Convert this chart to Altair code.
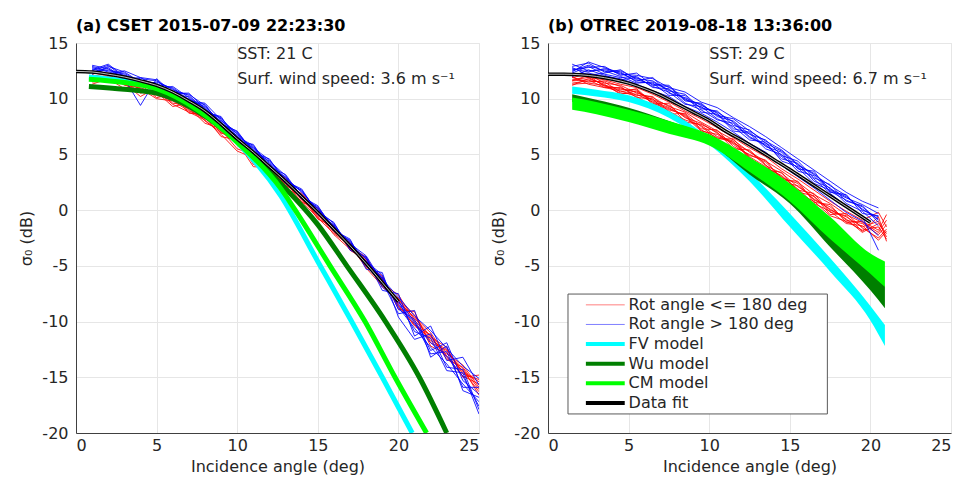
import altair as alt
import pandas as pd

# ---------------- Panel (a): CSET 2015-07-09 22:23:30 ----------------
THETA_A = [1, 2, 3, 4, 5, 6, 7, 8, 9, 10, 11, 12, 13, 14, 15, 16, 17, 18, 19, 20, 21, 22, 23, 24, 25]
RED_A = [
    [12.0, 12.3, 11.2, 11.0, 10.4, 10.0, 9.0, 8.2, 7.5, 5.8, 4.6, 3.5, 2.9, 1.0, -0.5, -1.4, -3.6, -4.5, -6.9, -8.0, -9.4, -11.9, -12.6, -14.5, -15.4],
    [11.6, 11.9, 11.6, 10.5, 10.9, 9.6, 9.4, 8.0, 7.0, 6.1, 3.9, 3.8, 2.2, 1.5, -0.1, -2.0, -2.9, -5.1, -6.2, -8.6, -10.3, -11.2, -13.4, -14.1, -16.1],
    [12.2, 11.5, 12.0, 11.3, 10.1, 10.4, 8.7, 8.6, 7.2, 5.5, 5.0, 3.2, 2.5, 0.7, 0.2, -1.9, -3.3, -4.2, -6.6, -7.6, -9.9, -11.4, -12.3, -15.0, -14.8],
    [11.3, 11.8, 10.9, 11.5, 10.6, 9.3, 9.6, 8.4, 6.6, 6.3, 4.3, 4.1, 1.9, 1.3, -0.8, -1.5, -3.0, -4.9, -5.9, -8.9, -9.1, -12.2, -12.9, -13.9, -15.9],
    [11.8, 12.0, 11.4, 10.2, 11.0, 10.1, 9.2, 7.8, 7.3, 5.9, 4.8, 3.0, 2.7, 0.9, -0.3, -2.2, -3.5, -4.6, -6.3, -8.3, -9.6, -11.0, -13.1, -14.4, -16.3],
    [12.1, 11.7, 11.7, 10.8, 10.3, 9.9, 9.1, 8.7, 6.9, 6.6, 4.1, 3.6, 2.3, 1.1, -0.6, -1.8, -3.1, -5.2, -6.8, -7.9, -10.1, -11.7, -12.5, -14.7, -15.2],
    [11.9, 12.1, 11.5, 10.9, 10.0, 9.8, 8.9, 8.3, 7.1, 6.0, 4.4, 3.3, 2.4, 1.2, -0.4, -1.6, -3.4, -4.4, -6.4, -8.1, -9.7, -11.3, -13.2, -14.9, -15.6],
    [11.5, 11.6, 11.3, 10.6, 10.7, 9.5, 8.8, 8.1, 6.8, 5.3, 4.7, 3.4, 2.0, 0.8, -0.7, -2.1, -3.2, -4.8, -6.1, -8.5, -10.4, -11.5, -12.8, -14.2, -16.6],
]
BLUE_A = [
    [12.6, 13.1, 12.0, 11.8, 11.6, 10.8, 10.3, 9.0, 8.2, 6.8, 5.5, 4.3, 2.9, 1.6, 0.1, -1.5, -2.9, -4.4, -6.2, -7.8, -9.5, -10.8, -12.4, -14.0, -15.1],
    [12.9, 12.5, 12.3, 11.4, 11.3, 11.0, 9.9, 9.3, 7.9, 6.5, 5.7, 4.0, 2.4, 1.4, -0.4, -1.3, -3.4, -4.7, -6.0, -8.7, -10.6, -12.3, -13.8, -15.6, -17.2],
    [12.3, 12.8, 11.8, 9.4, 11.8, 10.5, 10.5, 9.1, 8.0, 7.0, 5.3, 4.4, 3.1, 1.1, 0.3, -1.6, -3.0, -4.1, -6.4, -9.3, -9.0, -13.2, -12.2, -16.2, -16.8],
    [12.7, 12.2, 12.5, 11.9, 11.1, 10.7, 9.7, 9.5, 7.6, 6.7, 5.0, 4.1, 2.8, 1.7, -0.1, -1.9, -2.7, -5.0, -6.6, -8.1, -10.9, -11.5, -14.4, -14.6, -18.3],
    [12.5, 13.0, 11.9, 11.7, 10.9, 11.1, 10.1, 8.8, 8.4, 6.2, 5.9, 3.7, 3.0, 1.3, 0.0, -1.2, -3.3, -4.3, -7.2, -7.5, -11.3, -10.4, -13.5, -13.2, -15.7],
    [12.8, 12.4, 12.1, 11.6, 11.4, 10.4, 10.0, 9.2, 7.8, 6.9, 5.4, 4.2, 2.6, 1.9, -0.3, -1.4, -3.1, -4.6, -5.8, -8.9, -9.8, -12.6, -11.9, -15.3, -16.5],
    [12.4, 12.6, 12.2, 11.2, 11.5, 10.9, 9.8, 9.6, 8.1, 6.4, 5.6, 4.5, 2.7, 1.0, 0.2, -1.7, -2.8, -4.9, -6.1, -8.4, -10.2, -11.9, -13.1, -14.9, -17.6],
    [12.2, 12.9, 12.4, 11.5, 11.2, 10.6, 10.4, 9.4, 7.7, 7.1, 5.2, 4.6, 2.5, 1.8, -0.2, -1.1, -3.6, -4.2, -6.9, -8.2, -10.0, -12.9, -12.7, -15.9, -15.9],
    [13.0, 12.7, 11.7, 11.9, 11.7, 10.3, 10.2, 8.9, 8.3, 6.6, 5.8, 3.9, 3.2, 1.2, 0.4, -1.8, -2.6, -5.3, -5.6, -9.6, -11.6, -11.1, -14.1, -14.3, -17.9],
]
FIT_A_THETA = [0, 1, 2, 3, 4, 5, 6, 7, 8, 9, 10, 11, 12, 13, 14, 15, 16, 17, 18, 19, 20]
FIT_A = [12.45, 12.4, 12.2, 11.95, 11.6, 11.2, 10.6, 9.8, 8.9, 7.7, 6.4, 5.2, 3.9, 2.6, 1.2, -0.2, -1.7, -3.2, -4.8, -6.5, -8.2]
FV_A_THETA = [0.8, 3, 5, 7.5, 10, 12.7, 15, 17.1, 19, 20.86]
FV_A = [11.95, 11.6, 11.0, 9.1, 6.1, 1.3, -4.6, -10, -15, -20]
WU_A_THETA = [0.8, 3, 5, 7.5, 10, 12.7, 15, 16.8, 19.2, 21.3, 23.0]
WU_A = [11.1, 10.85, 10.5, 8.9, 6.2, 2.4, -1.3, -5, -10, -15, -20]
CM_A_THETA = [0.8, 3, 5, 7.5, 10, 12.7, 13.6, 15.76, 17.93, 19.79, 21.75]
CM_A = [11.75, 11.45, 10.9, 9.05, 6.1, 1.95, 0, -5, -10, -15, -20]

# ---------------- Panel (b): OTREC 2019-08-18 13:36:00 ----------------
THETA_B = [1.5, 2.5, 3.5, 4.5, 5.5, 6.5, 7.5, 8.5, 9.5, 10.5, 11.5, 12.5, 13.5, 14.5, 15.5, 16.5, 17.5, 18.5, 19.5, 20.5]
THETA_B_RED = [1.5, 2.5, 3.5, 4.5, 5.5, 6.5, 7.5, 8.5, 9.5, 10.5, 11.5, 12.5, 13.5, 14.5, 15.5, 16.5, 17.5, 18.5, 19.5, 20.5, 21.0]
BLUE_B = [
    [12.9, 13.2, 12.4, 12.5, 11.8, 11.6, 10.7, 10.4, 9.1, 8.9, 7.6, 7.2, 6.0, 5.3, 4.0, 3.3, 1.9, 1.2, 0.1, -0.8],
    [12.6, 12.8, 12.9, 12.1, 12.3, 11.2, 11.1, 9.8, 9.6, 8.4, 8.0, 6.8, 6.3, 4.9, 4.4, 2.9, 2.3, 0.8, 0.4, -1.1],
    [13.1, 12.5, 12.6, 12.3, 11.6, 11.9, 10.5, 10.1, 9.4, 8.7, 7.3, 7.0, 5.7, 5.2, 3.7, 3.5, 1.6, 1.4, -0.3, -0.5],
    [12.3, 12.9, 12.2, 11.9, 12.0, 11.0, 10.9, 9.6, 9.0, 8.1, 7.8, 6.5, 5.9, 4.6, 4.2, 2.6, 2.0, 0.6, -0.1, -1.4],
    [12.7, 12.4, 12.7, 12.4, 11.5, 11.4, 10.3, 10.3, 8.8, 8.6, 7.1, 6.9, 5.5, 5.0, 3.5, 3.1, 1.7, 0.9, 0.3, -0.9],
    [12.0, 12.6, 12.1, 11.7, 11.9, 11.1, 10.6, 9.5, 9.3, 8.2, 7.5, 6.3, 6.1, 4.4, 3.9, 2.8, 1.5, 0.4, -0.6, -3.6],
    [12.5, 13.0, 12.5, 12.0, 11.4, 11.5, 10.8, 10.0, 9.2, 8.8, 7.9, 6.6, 5.8, 4.8, 3.8, 2.4, 1.8, 1.1, 0.5, -0.3],
    [12.2, 12.3, 12.0, 11.8, 11.3, 10.7, 10.2, 9.3, 8.7, 7.9, 7.0, 6.0, 5.2, 4.0, 3.0, 2.0, 0.9, -0.2, -1.0, -2.3],
    [12.4, 13.3, 12.8, 12.2, 12.1, 11.8, 11.0, 10.6, 9.7, 9.2, 8.3, 7.5, 6.6, 5.6, 4.6, 3.6, 2.6, 1.6, 0.8, 0.2],
    [12.8, 12.1, 12.3, 12.6, 11.7, 11.3, 11.2, 9.9, 9.5, 8.5, 8.2, 7.1, 6.2, 5.4, 4.1, 3.2, 2.2, 1.3, 0.0, -0.6],
]
RED_B = [
    [11.7, 11.9, 11.2, 10.9, 10.6, 9.9, 9.4, 8.3, 7.8, 6.9, 6.0, 5.3, 4.0, 3.3, 2.1, 1.2, 0.0, -0.6, -1.5, -1.0, -2.4],
    [11.4, 11.6, 11.5, 10.6, 10.9, 9.6, 9.0, 8.6, 7.3, 7.2, 5.7, 5.0, 4.3, 2.9, 2.4, 0.9, 0.3, -0.9, -1.2, -2.2, -1.3],
    [12.0, 11.3, 11.0, 11.0, 10.3, 10.2, 8.8, 8.1, 7.6, 6.6, 6.2, 4.6, 3.8, 3.1, 1.8, 1.5, -0.2, -0.5, -1.9, -0.6, -2.8],
    [11.2, 11.8, 11.3, 10.4, 10.7, 9.8, 9.2, 8.4, 7.1, 6.8, 5.9, 4.9, 4.5, 2.7, 2.6, 0.7, 0.5, -1.1, -1.0, -1.8, -0.4],
    [11.9, 11.5, 11.6, 11.1, 10.1, 10.0, 8.6, 8.7, 7.5, 6.4, 6.4, 4.7, 3.6, 3.4, 1.6, 1.3, -0.4, -0.3, -1.6, -2.5, -1.7],
    [11.6, 12.1, 11.1, 10.8, 10.8, 9.5, 9.6, 7.9, 7.7, 7.0, 5.5, 5.4, 4.1, 2.5, 2.2, 1.0, 0.1, -0.8, -2.0, -1.2, -2.1],
    [12.3, 11.9, 11.7, 11.3, 11.0, 10.4, 9.7, 8.9, 8.2, 7.4, 6.5, 5.6, 4.8, 3.7, 2.8, 1.8, 0.8, -0.1, -0.9, -0.2, -1.5],
    [11.3, 11.4, 11.2, 10.5, 10.4, 9.7, 9.1, 8.5, 7.2, 6.5, 6.1, 4.8, 3.9, 3.0, 1.9, 0.6, -0.1, -1.2, -1.4, -2.7, -1.9],
    [11.6, 11.7, 11.0, 10.7, 10.2, 9.3, 8.9, 8.0, 6.9, 6.3, 5.4, 4.5, 3.5, 2.6, 1.5, 0.8, -0.5, -1.0, -1.8, -1.5, -2.6],
    [11.9, 12.2, 11.4, 11.2, 10.5, 10.1, 9.3, 8.8, 7.9, 7.1, 6.3, 5.2, 4.4, 3.5, 2.5, 1.4, 0.6, -0.4, -1.1, -2.0, -0.9],
]
FIT_B_THETA = [0, 1, 2, 3, 4, 5, 6, 7, 8, 9, 10, 11, 12, 13, 14, 15, 16, 17, 18, 19, 20]
FIT_B = [12.2, 12.2, 12.15, 12.0, 11.75, 11.4, 10.9, 10.3, 9.55, 8.8, 8.05, 7.1, 6.3, 5.45, 4.55, 3.65, 2.7, 1.75, 0.8, -0.15, -1.1]
MB_THETA = [1.5, 3, 5, 7.5, 10, 12.5, 15, 17.5, 20, 20.9]
FV_B_HI = [11.1, 10.8, 10.3, 8.9, 6.5, 3.4, -0.3, -4.3, -8.6, -10.3]
FV_B_LO = [10.45, 10.2, 9.7, 8.3, 5.9, 2.6, -1.5, -5.5, -9.9, -12.2]
WU_B_HI = [10.4, 9.9, 9.2, 8.0, 6.6, 4.0, 1.4, -2.0, -5.6, -6.8]
WU_B_LO = [9.7, 9.4, 8.65, 7.5, 6.0, 3.2, 0.6, -3.3, -7.2, -8.8]
CM_B_HI = [10.1, 9.7, 9.0, 8.0, 6.8, 4.75, 2.4, -0.6, -3.9, -4.6]
CM_B_LO = [9.0, 8.6, 7.9, 6.85, 5.8, 3.45, 0.8, -2.6, -5.7, -6.9]

TITLES = ["(a) CSET 2015-07-09 22:23:30", "(b) OTREC 2019-08-18 13:36:00"]
SST_LABELS = ["SST: 21 C", "SST: 29 C"]
WIND_LABELS = ["Surf. wind speed: 3.6 m s\u207b\u00b9", "Surf. wind speed: 6.7 m s\u207b\u00b9"]
LEGEND_LABELS = ["Rot angle <= 180 deg", "Rot angle > 180 deg", "FV model", "Wu model", "CM model", "Data fit"]
X_TICKS = [0, 5, 10, 15, 20, 25]
Y_TICKS = [-20, -15, -10, -5, 0, 5, 10, 15]

RED = "#ff0000"
BLUE = "#0000ff"
CYAN = "#00ffff"
DKGREEN = "#007f00"
GREEN = "#00ff00"
FONT = "DejaVu Sans"
FS = 16
W, H = 403, 390


def xq(field="theta"):
    return alt.X(f"{field}:Q", scale=alt.Scale(domain=[0, 25], nice=False, zero=False),
                 axis=alt.Axis(values=X_TICKS, title="Incidence angle (deg)", labelExpr="datum.value + ''"))


def yq(field="sigma"):
    return alt.Y(f"{field}:Q", scale=alt.Scale(domain=[-20, 15], nice=False, zero=False),
                 axis=alt.Axis(values=Y_TICKS, title="\u03c3\u2080 (dB)", labelExpr="datum.value + ''"))


def lines_df(theta, rows, prefix):
    recs = []
    for i, vals in enumerate(rows):
        for t, v in zip(theta, vals):
            recs.append({"theta": t, "sigma": v, "id": f"{prefix}{i}"})
    return pd.DataFrame(recs)


def curve_df(theta, vals):
    return pd.DataFrame({"theta": theta, "sigma": vals})


def band_df(theta, lo, hi):
    return pd.DataFrame({"theta": theta, "sigma": lo, "sigma2": hi})


def data_layer(df, color):
    return alt.Chart(df).mark_line(color=color, strokeWidth=1, opacity=0.85, clip=True).encode(
        x=xq(), y=yq(), detail="id:N")


def model_line(df, color, width=5):
    return alt.Chart(df).mark_line(color=color, strokeWidth=width, interpolate="monotone", clip=True).encode(
        x=xq(), y=yq())


def band(df, color):
    return alt.Chart(df).mark_area(color=color, opacity=1, interpolate="monotone", clip=True).encode(
        x=xq(), y=yq(), y2="sigma2:Q")


def fit_layers(df):
    return [
        alt.Chart(df).mark_line(color="black", strokeWidth=3.5, interpolate="monotone", clip=True).encode(x=xq(), y=yq()),
        alt.Chart(df).mark_line(color="#e8e8e8", strokeWidth=0.8, interpolate="monotone", clip=True).encode(x=xq(), y=yq()),
    ]


def annot(i):
    df = pd.DataFrame({"theta": [10, 10], "sigma": [14.0, 11.8], "label": [SST_LABELS[i], WIND_LABELS[i]]})
    return alt.Chart(df).mark_text(align="left", baseline="middle", font=FONT, fontSize=FS, color="#262626").encode(
        x=xq(), y=yq(), text="label:N")


def title(i):
    return alt.TitleParams(TITLES[i], anchor="start", frame="group", font=FONT, fontSize=16,
                           fontWeight="bold", color="black", offset=1)


# ---- panel a ----
panel_a = alt.layer(
    data_layer(lines_df(THETA_A, RED_A, "r"), RED),
    data_layer(lines_df(THETA_A, BLUE_A, "b"), BLUE),
    model_line(curve_df(FV_A_THETA, FV_A), CYAN),
    model_line(curve_df(WU_A_THETA, WU_A), DKGREEN),
    model_line(curve_df(CM_A_THETA, CM_A), GREEN),
    *fit_layers(curve_df(FIT_A_THETA, FIT_A)),
    annot(0),
).properties(width=W, height=H, title=title(0))

# ---- legend for panel b (built in data coordinates) ----
LEG_COLORS = [RED, BLUE, CYAN, DKGREEN, GREEN, "black"]
LEG_WIDTHS = [1, 1, 4, 4, 4, 4]
LEG_OPAC = [0.5, 0.5, 1, 1, 1, 1]
row_y = [-8.5 - 1.76 * k for k in range(len(LEGEND_LABELS))]
leg_df = pd.DataFrame({
    "theta": [2.35] * 6, "theta2": [4.76] * 6, "sigma": row_y, "label": LEGEND_LABELS,
    "color": LEG_COLORS, "width": LEG_WIDTHS, "op": LEG_OPAC, "tx": [5.0] * 6,
})
box_df = pd.DataFrame({"theta": [1.24], "theta2": [17.33], "sigma": [-7.53], "sigma2": [-18.29]})
legend_box = alt.Chart(box_df).mark_rect(fill="white", stroke="#5a5a5a", strokeWidth=1).encode(
    x=xq(), x2="theta2:Q", y=yq(), y2="sigma2:Q")
legend_lines = alt.Chart(leg_df).mark_rule().encode(
    x=xq(), x2="theta2:Q", y=yq(),
    color=alt.Color("color:N", scale=None),
    strokeWidth=alt.StrokeWidth("width:Q", scale=None),
    opacity=alt.Opacity("op:Q", scale=None))
legend_text = alt.Chart(leg_df).mark_text(align="left", baseline="middle", font=FONT, fontSize=FS,
                                          color="#262626").encode(
    x=xq("tx"), y=yq(), text="label:N")

panel_b = alt.layer(
    data_layer(lines_df(THETA_B_RED, RED_B, "r"), RED),
    data_layer(lines_df(THETA_B, BLUE_B, "b"), BLUE),
    band(band_df(MB_THETA, FV_B_LO, FV_B_HI), CYAN),
    band(band_df(MB_THETA, WU_B_LO, WU_B_HI), DKGREEN),
    band(band_df(MB_THETA, CM_B_LO, CM_B_HI), GREEN),
    *fit_layers(curve_df(FIT_B_THETA, FIT_B)),
    annot(1),
    legend_box, legend_lines, legend_text,
).properties(width=W, height=H, title=title(1))

chart = alt.hconcat(panel_a, panel_b, spacing=69, bounds="flush").properties(
    padding={"left": 10, "top": 9, "right": 0, "bottom": 0}
).configure_view(
    stroke="#e0e0e0", strokeWidth=1
).configure_axis(
    labelFont=FONT, labelFontSize=FS, labelColor="#262626",
    titleFont=FONT, titleFontSize=FS, titleColor="#262626", titleFontWeight="normal",
    domainColor="#404040", domainWidth=1, ticks=False, tickSize=0,
    grid=True, gridColor="#e6e6e6", gridWidth=1,
).configure_axisX(
    labelPadding=4, titlePadding=5,
).configure_axisY(
    labelPadding=8, titlePadding=7,
)

chart.save("out.html", embed_options={"renderer": "svg", "actions": False})
